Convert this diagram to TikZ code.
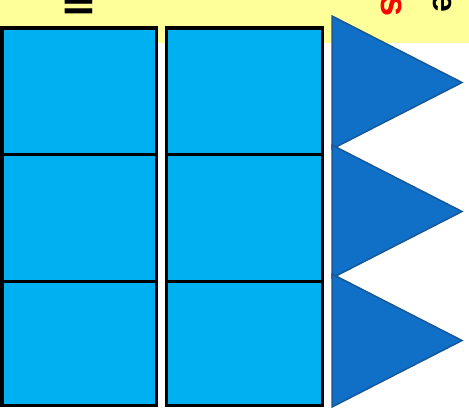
\documentclass[tikz,border=0pt]{standalone}
\usepackage{fontspec}
\setmainfont{Liberation Sans}
\newfontfamily\dvs{DejaVu Sans}
\definecolor{band}{RGB}{255,255,153}
\definecolor{cell}{RGB}{0,176,240}
\definecolor{tri}{RGB}{16,111,198}
\definecolor{triedge}{RGB}{24,88,150}
\tikzset{
  cellbox/.style={draw=black, line width=3.2pt, fill=cell, inner sep=0pt, anchor=north west},
  tribox/.style={fill=tri, draw=triedge, line width=1.5pt, line join=miter},
  frag/.style={inner sep=0pt}
}
\begin{document}
\begin{tikzpicture}[x=1pt,y=1pt]
\useasboundingbox (0,0) rectangle (469,-412);
\clip (0,0) rectangle (469,-412);
\fill[band] (0,0) rectangle (469,-43);
% text fragments cut by the top edge
\node[frag, anchor=base, font=\dvs\bfseries\fontsize{44}{44}\selectfont] (t1) at (78.5,-15.5) {≡};
\node[frag, text=red, rotate=-90, anchor=east, font=\bfseries\fontsize{38}{38}\selectfont] (t2) at (391.5,-17) {s};
\node[frag, text=black, rotate=-90, anchor=east, font=\bfseries\fontsize{34}{34}\selectfont] (t3) at (442.5,-13) {e};
% cells
\foreach \r/\y/\h in {1/26.5/126,2/152.5/127,3/279.5/124}{
  \node[cellbox, minimum width=154pt, minimum height=\h pt] (a\r) at (0.5,-\y) {};
  \node[cellbox, minimum width=155.5pt, minimum height=\h pt] (b\r) at (165,-\y) {};
}
% triangles
\foreach \t in {16,145,274}{
  \draw[tribox] (332,-\t) -- (462,-\t-66.5) -- (332,-\t-133) -- cycle;
}
\end{tikzpicture}
\end{document}
